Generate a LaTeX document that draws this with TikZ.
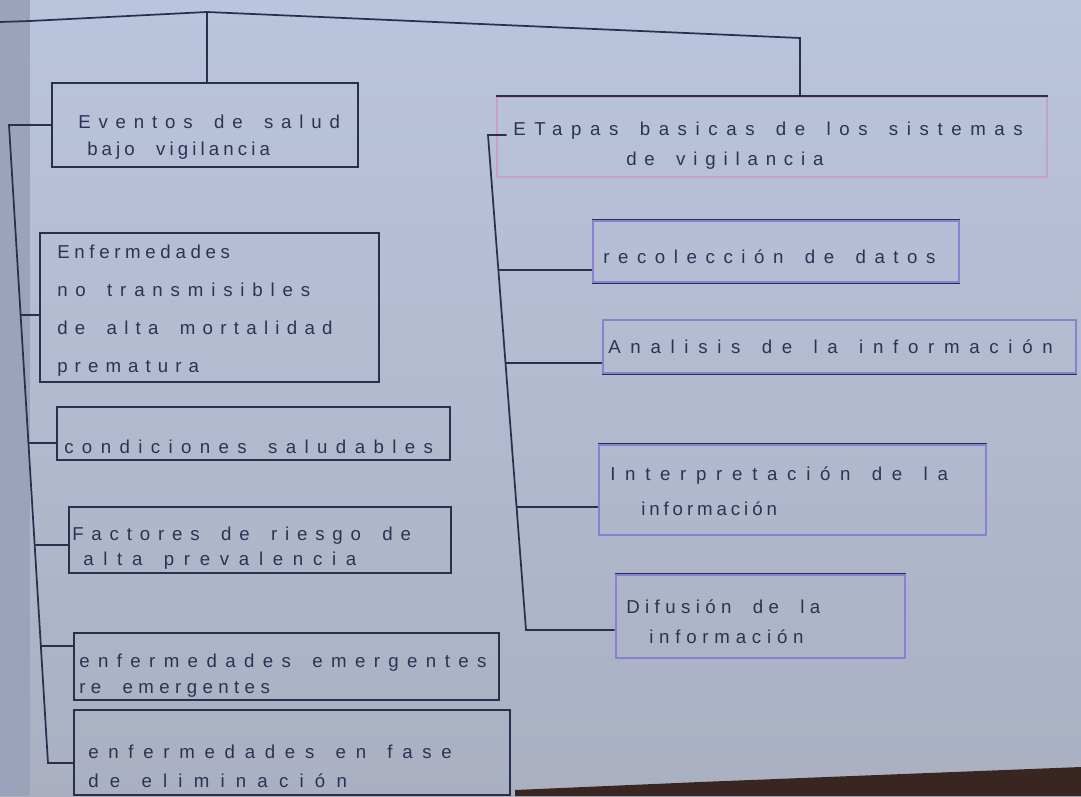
\documentclass[tikz,border=0pt]{standalone}
\usepackage{fontspec}
\setmainfont{Liberation Sans}
\usetikzlibrary{calc}
\definecolor{papertop}{HTML}{BAC4DC}
\definecolor{paperbot}{HTML}{AAB0C2}
\definecolor{strip}{HTML}{9AA3B9}
\definecolor{pen}{HTML}{27304F}
\definecolor{ink}{HTML}{2A3354}
\definecolor{violetpen}{HTML}{8B7FCF}
\definecolor{pinkpen}{HTML}{C9A0BD}
\definecolor{band}{HTML}{3A2621}
\newcommand\lsp[1]{\addfontfeature{LetterSpace=#1}}
\newcommand\ws{\hspace{16pt}}
\begin{document}
\begin{tikzpicture}[x=0.75pt,y=-0.75pt,
  pen/.style={draw=pen, line width=1.3pt},
  lbox/.style 2 args={pen, rectangle, inner sep=0pt, minimum width=#1*0.75pt, minimum height=#2*0.75pt},
  rbox/.style 2 args={draw=violetpen, line width=2.2pt, rectangle, inner sep=0pt, minimum width=#1*0.75pt, minimum height=#2*0.75pt},
  txt/.style={anchor=base west, inner sep=0pt, align=left, text width=500pt, text=ink, font=\fontsize{14pt}{#1}\selectfont},
]
% paper
\useasboundingbox (0,0) rectangle (1081,796);
\shade[top color=papertop, bottom color=paperbot] (0,0) rectangle (1081,796);
\fill[strip] (0,0) rectangle (30,796);
\fill[band] (515,796) -- (515,790) -- (700,782) -- (1081,767) -- (1081,796) -- cycle;

% left boxes
\node[lbox={306}{84}] (eventos) at (205,125) {};
\node[lbox={339}{149}] (enf) at (209.5,307.5) {};
\node[lbox={393}{53}] (cond) at (253.5,433.5) {};
\node[lbox={382}{66}] (fact) at (260,540) {};
\node[lbox={425}{67}] (emer) at (286.5,666.5) {};
\node[lbox={436}{85}] (fase) at (292,752.5) {};

% right boxes
\node[rbox={550}{80}, draw=pinkpen, line width=1.6pt] (etapas) at (772,137) {};
\node[rbox={366}{61}] (rec) at (776,251.5) {};
\node[rbox={473}{53}] (ana) at (839.5,346.5) {};
\node[rbox={387}{90}] (int) at (792.5,490) {};
\node[rbox={289}{83}] (dif) at (760.5,616.5) {};
\draw[pen] (etapas.north west) -- (etapas.north east);
\draw[pen] (rec.north west) -- (rec.north east);
\draw[pen] (rec.south west) -- (rec.south east);
\draw[pen] (ana.south west) -- (ana.south east);
\draw[pen] (int.north west) -- (int.north east);
\draw[pen] (dif.north west) -- (dif.north east);

% texts
\node[txt=20.25pt] (eventosT) at (78,128) {{\lsp{42}Eventos\ws de\ws salud}\\{\lsp{22}\hspace*{6.75pt}bajo\ws vigilancia}};
\node[txt=28.5pt] (enfT) at (57,258) {{\lsp{25}Enfermedades}\\{\lsp{42}no\ws transmisibles}\\{\lsp{39}de\ws alta\ws mortalidad}\\{\lsp{38}prematura}};
\node[txt=20pt] (condT) at (64,453) {{\lsp{45}condiciones\ws saludables}};
\node[txt=18.75pt] (factT) at (72,540) {{\lsp{42}Factores\ws de\ws riesgo\ws de}\\{\lsp{52}\hspace*{8.25pt}alta\ws prevalencia}};
\node[txt=19.5pt] (emerT) at (79,667) {{\lsp{45}enfermedades\ws emergentes}\\{\lsp{29}re\ws emergentes}};
\node[txt=21.75pt] (faseT) at (88,758) {{\lsp{52}enfermedades\ws en\ws fase}\\{\lsp{60}de\ws eliminación}};

\node[txt=22.5pt] (etapasT) at (513,135) {{\lsp{46}ETapas\ws basicas\ws de\ws los\ws sistemas}\\{\lsp{42}\hspace*{84.75pt}de\ws vigilancia}};
\node[txt=20pt] (recT) at (603,263) {{\lsp{46}recolección\ws de\ws datos}};
\node[txt=20pt] (anaT) at (608,353) {{\lsp{52}Analisis\ws de\ws la\ws información}};
\node[txt=26.25pt] (intT) at (610,480) {{\lsp{52}Interpretación\ws de\ws la}\\{\lsp{21}\hspace*{23.25pt}información}};
\node[txt=22.5pt] (difT) at (626,613) {{\lsp{29}Difusión\ws de\ws la}\\{\lsp{31}\hspace*{17.25pt}información}};

% top bar
\coordinate (T0) at (0,22);
\coordinate (T1) at (30,21);
\coordinate (T2) at (207,12);
\coordinate (T3) at (800,38);
\draw[pen] (T0) -- (T1) -- (T2) -- (T3) -- (T3 |- etapas.north);
\draw[pen] (T2) -- (T2 |- eventos.north);

% left spine
\coordinate (Ltop) at (9,125);
\coordinate (Lbot) at (48,763);
\draw[pen] (eventos.west) -- (Ltop) -- (Lbot) -- (Lbot -| fase.west);
\coordinate (L1) at ($(Ltop)!0.298!(Lbot)$);
\coordinate (L2) at ($(Ltop)!0.498!(Lbot)$);
\coordinate (L3) at ($(Ltop)!0.658!(Lbot)$);
\coordinate (L4) at ($(Ltop)!0.817!(Lbot)$);
\draw[pen] (L1) -- (L1 -| enf.west);
\draw[pen] (L2) -- (L2 -| cond.west);
\draw[pen] (L3) -- (L3 -| fact.west);
\draw[pen] (L4) -- (L4 -| emer.west);

% right spine
\coordinate (Rtop) at (488,135);
\coordinate (Rbot) at (526,630);
\draw[pen] ([xshift=8pt]Rtop -| etapas.west) -- (Rtop) -- (Rbot) -- (Rbot -| dif.west);
\coordinate (R1) at ($(Rtop)!0.273!(Rbot)$);
\coordinate (R2) at ($(Rtop)!0.461!(Rbot)$);
\coordinate (R3) at ($(Rtop)!0.752!(Rbot)$);
\draw[pen] (R1) -- (R1 -| rec.west);
\draw[pen] (R2) -- (R2 -| ana.west);
\draw[pen] (R3) -- (R3 -| int.west);
\end{tikzpicture}
\end{document}
